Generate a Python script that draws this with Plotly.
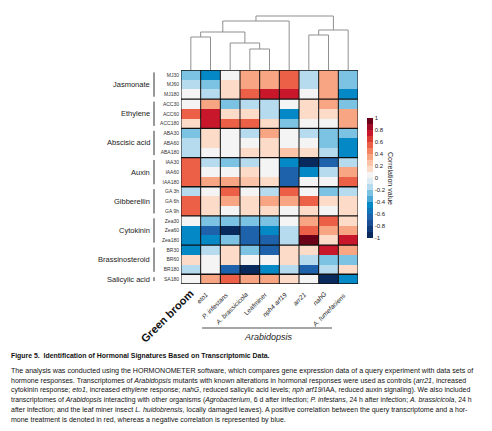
import plotly.graph_objects as go

# ------------------------------------------------------------------
# data
# ------------------------------------------------------------------
columns = ["Green broom", "eto1", "P. infestans", "A. brassicicola", "Leafminer",
           "nph4 arf19", "arr21", "nahG", "A. tumefaciens"]
column_italic = [False, True, True, True, False, True, True, True, True]

rows = ["MJ30", "MJ60", "MJ180", "ACC30", "ACC60", "ACC180",
        "ABA30", "ABA60", "ABA180", "IAA30", "IAA60", "IAA180",
        "GA 3h", "GA 6h", "GA 9h", "Zea30", "Zea60", "Zea180",
        "BR30", "BR60", "BR180", "SA180"]

groups = ["Jasmonate", "Ethylene", "Abscisic acid", "Auxin",
          "Gibberellin", "Cytokinin", "Brassinosteroid", "Salicylic acid"]
group_sizes = [3, 3, 3, 3, 3, 3, 3, 1]

corr = [
    [-0.28, -0.45, 0.05, 0.35, 0.35, 0.55, -0.15, 0.35, -0.28],
    [-0.15, -0.28, 0.15, 0.35, 0.35, 0.55, -0.15, 0.35, -0.28],
    [0.05, -0.15, 0.15, 0.55, 0.75, 0.75, 0.05, 0.35, -0.45],
    [0.05, 0.35, -0.28, -0.15, -0.15, 0.05, 0.15, 0.35, -0.28],
    [0.55, 0.75, 0.15, 0.15, -0.15, -0.45, 0.15, 0.15, 0.35],
    [0.15, 0.75, 0.55, 0.55, 0.15, -0.28, 0.05, 0.05, 0.35],
    [-0.28, 0.15, 0.05, -0.15, 0.35, 0.05, -0.15, -0.28, -0.28],
    [-0.15, 0.15, 0.05, 0.05, 0.15, 0.05, 0.05, -0.28, -0.45],
    [-0.15, 0.05, 0.05, 0.15, 0.15, 0.25, 0.15, -0.15, -0.45],
    [0.55, -0.15, -0.28, -0.15, 0.05, -0.45, -0.95, -0.65, -0.15],
    [0.55, 0.05, 0.05, 0.15, 0.05, -0.65, -0.45, -0.15, 0.35],
    [0.55, 0.35, 0.35, 0.25, 0.15, -0.65, 0.05, 0.05, 0.55],
    [-0.15, 0.05, 0.55, 0.05, -0.15, 0.55, 0.05, -0.28, -0.15],
    [0.55, 0.15, 0.35, 0.15, 0.35, 0.35, 0.55, 0.15, 0.15],
    [0.55, 0.15, 0.05, 0.15, 0.15, 0.05, 0.15, 0.05, 0.15],
    [0.05, -0.28, -0.28, -0.28, -0.28, 0.05, 0.35, 0.55, 0.15],
    [-0.45, -0.65, -0.95, -0.65, -0.45, -0.15, 0.55, 0.35, 0.35],
    [-0.45, -0.45, -0.28, -0.65, -0.65, -0.15, 0.95, 0.15, 0.75],
    [-0.45, -0.15, 0.15, -0.28, -0.65, 0.15, 0.15, 0.75, 0.35],
    [0.15, 0.05, 0.15, 0.05, 0.05, 0.15, -0.15, -0.28, -0.28],
    [-0.15, 0.05, -0.65, -0.95, -0.45, -0.15, -0.65, -0.15, 0.15],
    [0.05, 0.35, 0.55, 0.35, 0.35, 0.15, 0.05, -0.95, -0.45],
]

# column dendrogram: (left, right, height); ids >= 9 are earlier merges
linkage = [
    (0, 1, 33), (3, 4, 21), (2, 10, 27), (9, 11, 38),
    (12, 5, 49), (6, 7, 35), (14, 8, 40), (13, 15, 54),
]

cbar_ticks = [1, 0.8, 0.6, 0.4, 0.2, 0, -0.2, -0.4, -0.6, -0.8, -1]
cbar_ticktext = ["1", "0.8", "0.6", "0.4", "0.2", "0", "-0.2", "-0.4", "-0.6", "-0.8", "-1"]

caption = [
    "<b>Figure 5.</b>  <b>Identification of Hormonal Signatures Based on Transcriptomic Data.</b>",
    "The analysis was conducted using the HORMONOMETER software, which compares gene expression data of a query experiment with data sets of",
    "hormone responses. Transcriptomes of <i>Arabidopsis</i> mutants with known alterations in hormonal responses were used as controls (<i>arr21</i>, increased",
    "cytokinin response; <i>eto1</i>, increased <i>ethylene</i> response; <i>nahG</i>, reduced salicylic acid levels; <i>nph arf19</i>/IAA, reduced auxin signaling). We also included",
    "transcriptomes of <i>Arabidopsis</i> interacting with other organisms (<i>Agrobacterium</i>, 6 d after infection; <i>P. infestans</i>, 24 h after infection; <i>A. brassicicola</i>, 24 h",
    "after infection; and the leaf miner insect <i>L. huidobrensis</i>, locally damaged leaves). A positive correlation between the query transcriptome and a hor-",
    "mone treatment is denoted in red, whereas a negative correlation is represented by blue.",
]

# ------------------------------------------------------------------
# layout helpers (reference pixel -> paper); the page body adds an 8px margin
# ------------------------------------------------------------------
OFF = 8
W, H = 492 - OFF, 431 - OFF
FONT = "Liberation Sans, Arial, sans-serif"


def px_x(p):
    return (p - OFF) / W


def px_y(p):
    return 1 - (p - OFF) / H


HM_LEFT, HM_RIGHT, HM_TOP, HM_BOTTOM = 181, 358, 70, 284
col_w = (HM_RIGHT - HM_LEFT) / len(columns)

band_colors = [
    "#082a5c", "#0f3b78", "#1a4f95", "#1d62aa", "#0f76bb",
    "#0489c6", "#4aa9d6", "#7cc2e2", "#b7dbee", "#dcecf5",
    "#f4f4f4", "#fcdcc8", "#fbc4a8", "#f7a582", "#f3845f",
    "#ec6048", "#dc3a35", "#c8172b", "#a20a25", "#6b0019",
]
colorscale = []
for i, c in enumerate(band_colors):
    colorscale.append([i / len(band_colors), c])
    colorscale.append([(i + 1) / len(band_colors), c])

fig = go.Figure()

fig.add_trace(go.Heatmap(
    z=corr,
    x=list(range(len(columns))),
    y=list(range(len(rows))),
    zmin=-1, zmax=1,
    colorscale=colorscale,
    hoverinfo="skip",
    colorbar=dict(
        x=px_x(367), xanchor="left",
        y=px_y(178), yanchor="middle",
        thickness=6, thicknessmode="pixels",
        len=120, lenmode="pixels",
        tickvals=cbar_ticks, ticktext=cbar_ticktext,
        tickfont=dict(size=6, family=FONT, color="#222"),
        ticks="", outlinewidth=0, xpad=0, ypad=0,
    ),
))

# dendrogram built from the linkage list
n = len(columns)
pos = {i: (float(i), 0.0) for i in range(n)}
for k, (a, b, h) in enumerate(linkage):
    xa, ha = pos[a]
    xb, hb = pos[b]
    fig.add_trace(go.Scatter(
        x=[xa, xa, xb, xb], y=[ha, h, h, hb], mode="lines",
        line=dict(color="#8f8f8f", width=1), hoverinfo="skip", showlegend=False,
        xaxis="x2", yaxis="y2",
    ))
    pos[n + k] = ((xa + xb) / 2, h)

fig.update_layout(
    width=W, height=H,
    margin=dict(l=0, r=0, t=0, b=0),
    paper_bgcolor="white", plot_bgcolor="white",
    showlegend=False,
    font=dict(family=FONT, color="#222"),
    xaxis=dict(domain=[px_x(HM_LEFT), px_x(HM_RIGHT)], range=[-0.5, n - 0.5],
               showticklabels=False, showgrid=False, zeroline=False, ticks=""),
    yaxis=dict(domain=[px_y(HM_BOTTOM), px_y(HM_TOP)], range=[len(rows) - 0.5, -0.5],
               tickvals=list(range(len(rows))), ticktext=rows,
               tickfont=dict(size=5, family=FONT, color="#333"),
               showgrid=False, zeroline=False, ticks="", ticklabelstandoff=1),
    xaxis2=dict(domain=[px_x(HM_LEFT), px_x(HM_RIGHT)], range=[-0.5, n - 0.5],
                visible=False, anchor="y2"),
    yaxis2=dict(domain=[px_y(HM_TOP), px_y(HM_TOP - 56)], range=[0, 56],
                visible=False, anchor="x2"),
)

shapes = []
# vertical cell borders
for i in range(n + 1):
    shapes.append(dict(type="line", xref="x", yref="y", x0=i - 0.5, x1=i - 0.5,
                       y0=-0.5, y1=len(rows) - 0.5, line=dict(color="#111", width=1)))
# group borders, brackets and labels
annotations = []
start = 0
bounds = [-0.5]
for g, size in zip(groups, group_sizes):
    end = start + size
    bounds.append(end - 0.5)
    inset = 0.25 if size > 1 else 0.3
    shapes.append(dict(type="line", xref="paper", yref="y",
                       x0=px_x(154), x1=px_x(154),
                       y0=start - 0.5 + inset, y1=end - 0.5 - inset,
                       line=dict(color="#333", width=1)))
    annotations.append(dict(text=g, xref="paper", yref="y", x=px_x(151.5),
                            y=(start + end - 1) / 2, xanchor="right", yanchor="middle",
                            showarrow=False, font=dict(size=7.5, family=FONT, color="#222")))
    start = end
for b in bounds:
    shapes.append(dict(type="line", xref="x", yref="y", x0=-0.5, x1=n - 0.5,
                       y0=b, y1=b, line=dict(color="#111", width=1.3)))

# column labels (paper coords: off-range data anchors get hidden)
for i, (name, it) in enumerate(zip(columns, column_italic)):
    cx = HM_LEFT + (i + 0.5) * col_w
    if i == 0:
        annotations.append(dict(text="<b>%s</b>" % name, xref="paper", yref="paper",
                                x=px_x(cx + 8), y=px_y(HM_BOTTOM + 1), xanchor="right",
                                yanchor="top", textangle=-45, showarrow=False,
                                font=dict(size=11, family=FONT, color="#111")))
    else:
        txt = "<i>%s</i>" % name if it else name
        annotations.append(dict(text=txt, xref="paper", yref="paper",
                                x=px_x(cx + 2), y=px_y(HM_BOTTOM + 4), xanchor="right",
                                yanchor="top", textangle=-45, showarrow=False,
                                font=dict(size=6.5, family=FONT, color="#222")))

# Arabidopsis bracket
shapes.append(dict(type="line", xref="paper", yref="paper",
                   x0=px_x(202), x1=px_x(332), y0=px_y(328), y1=px_y(328),
                   line=dict(color="#8a8a8a", width=1.6)))
annotations.append(dict(text="<i>Arabidopsis</i>", xref="paper", yref="paper",
                        x=px_x(268), y=px_y(336.5), xanchor="center", yanchor="middle",
                        showarrow=False, font=dict(size=9, family=FONT, color="#222")))

# colorbar title
annotations.append(dict(text="Correlation value", xref="paper", yref="paper",
                        x=px_x(391), y=px_y(178), xanchor="center", yanchor="middle",
                        textangle=90, showarrow=False,
                        font=dict(size=7, family=FONT, color="#222")))

# caption, one annotation per printed line
cap_y = [356, 370.5, 380.5, 390, 400, 410, 419.5]
cap_size = [6.9, 7.1, 7.0, 6.95, 6.9, 7.0, 7.0]
for line, yy, fs in zip(caption, cap_y, cap_size):
    annotations.append(dict(text=line, xref="paper", yref="paper",
                            x=px_x(9), y=px_y(yy), xanchor="left", yanchor="middle",
                            showarrow=False, font=dict(size=fs, family=FONT, color="#111")))

fig.update_layout(shapes=shapes, annotations=annotations)

fig.write_html("out.html")
